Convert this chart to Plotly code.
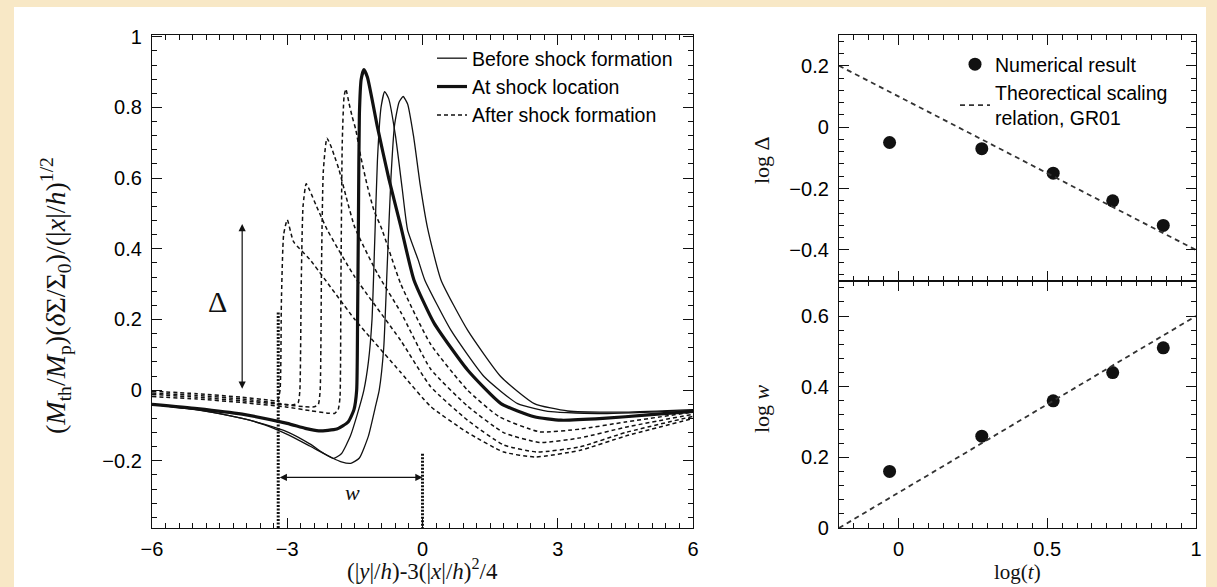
import plotly.graph_objects as go

# ---------------- left panel: density profiles ----------------
# two profiles before shock formation (thin solid)
before1_x = [-6, -5, -4, -3.5, -3, -2.5, -2.0, -1.8, -1.59, -1.4, -1.2, -1.05, -0.96, -0.86, -0.78, -0.70,
             -0.62, -0.52, -0.43, -0.33, -0.2, -0.05, 0.11, 0.41, 1.0, 1.74, 2.48, 3.22, 4.5, 6]
before1_y = [-0.040, -0.055, -0.080, -0.098, -0.125, -0.158, -0.192, -0.203, -0.207, -0.192, -0.13, -0.05,
             0.0, 0.12, 0.36, 0.60, 0.75, 0.815, 0.831, 0.81, 0.72, 0.58, 0.46, 0.312, 0.17, 0.038, -0.038,
             -0.059, -0.062, -0.055]
before2_x = [-6, -5, -4, -3.5, -3, -2.5, -2.2, -1.97, -1.8, -1.6, -1.45, -1.3, -1.2, -1.12, -1.06, -1.0,
             -0.92, -0.84, -0.75, -0.6, -0.45, -0.33, -0.1, 0.05, 0.63, 1.37, 2.11, 2.85, 4.0, 6]
before2_y = [-0.040, -0.056, -0.080, -0.097, -0.118, -0.152, -0.178, -0.193, -0.180, -0.130, -0.070, 0.0,
             0.08, 0.2, 0.42, 0.65, 0.80, 0.845, 0.825, 0.72, 0.57, 0.453, 0.37, 0.312, 0.17, 0.038, -0.038,
             -0.061, -0.066, -0.057]

# profile at the shock location (thick solid)
shock_x = [-6, -5, -4, -3, -2.6, -2.3, -1.9, -1.65, -1.52, -1.46, -1.44, -1.42, -1.40, -1.36, -1.30, -1.22,
           -1.0, -0.75, -0.48, -0.19, 0.26, 1.0, 1.74, 2.48, 3.07, 4.0, 5.0, 6.0]
shock_y = [-0.040, -0.052, -0.068, -0.094, -0.108, -0.115, -0.110, -0.090, -0.055, 0.0, 0.2, 0.5, 0.78,
           0.88, 0.907, 0.885, 0.745, 0.60, 0.463, 0.312, 0.189, 0.057, -0.038, -0.075, -0.085, -0.080,
           -0.070, -0.060]

# profiles after shock formation (dashed)
after1_x = [-6, -5, -4, -3, -2.5, -2.1, -1.95, -1.87, -1.83, -1.81, -1.78, -1.74, -1.70, -1.63, -1.56, -1.48,
            -1.37, -1.22, -1.08, -0.9, -0.48, 0.18, 1.0, 1.7, 2.6, 3.5, 4.5, 6]
after1_y = [-0.018, -0.025, -0.035, -0.048, -0.058, -0.065, -0.066, -0.055, -0.02, 0.3, 0.7, 0.83, 0.852,
            0.812, 0.774, 0.737, 0.661, 0.576, 0.51, 0.455, 0.30, 0.13, 0.0, -0.075, -0.118, -0.11, -0.09,
            -0.062]
after2_x = [-6, -5, -4, -3, -2.6, -2.4, -2.31, -2.27, -2.24, -2.2, -2.12, -2.03, -1.96, -1.85, -1.7, -1.5,
            -1.0, -0.48, 0.18, 1.0, 1.8, 2.6, 3.5, 4.5, 6]
after2_y = [-0.012, -0.02, -0.03, -0.042, -0.047, -0.047, -0.04, 0.0, 0.35, 0.62, 0.713, 0.69, 0.665, 0.623,
            0.55, 0.46, 0.33, 0.22, 0.06, -0.045, -0.12, -0.148, -0.135, -0.105, -0.068]
after3_x = [-6, -5, -4, -3.2, -2.9, -2.76, -2.72, -2.69, -2.65, -2.58, -2.5, -2.35, -2.11, -1.5, -0.48, 0.18,
            1.0, 1.8, 2.55, 3.5, 4.5, 6]
after3_y = [-0.008, -0.015, -0.025, -0.037, -0.042, -0.036, 0.0, 0.3, 0.52, 0.584, 0.565, 0.52, 0.453, 0.32,
            0.14, 0.01, -0.085, -0.155, -0.175, -0.16, -0.12, -0.074]
after4_x = [-6, -5, -4, -3.4, -3.22, -3.16, -3.13, -3.08, -3.0, -2.86, -2.5, -1.5, -0.48, 0.18, 1.0, 1.8,
            2.5, 3.5, 4.5, 6]
after4_y = [-0.003, -0.01, -0.02, -0.028, -0.030, 0.0, 0.25, 0.44, 0.482, 0.42, 0.37, 0.20, 0.05, -0.046,
            -0.12, -0.175, -0.189, -0.17, -0.13, -0.08]

# amplitude / width markers
delta_x = -4.0
delta_span = [0.0, 0.47]
width_y = -0.247
width_span = [-3.2, 0.0]
front_line_top = 0.22
end_line_top = -0.18

# ---------------- right panels: scaling with time ----------------
log_t = [-0.03, 0.28, 0.52, 0.72, 0.89]
log_delta = [-0.05, -0.07, -0.15, -0.24, -0.32]
log_w = [0.16, 0.26, 0.36, 0.44, 0.51]
theory_t = [-0.2, 1.0]
theory_delta = [0.2, -0.4]
theory_w = [0.0, 0.6]

W, H = 1217, 587
INK = "#111111"
SANS = "Liberation Sans, Arial, sans-serif"
SERIF = "Liberation Serif, Times New Roman, serif"
TICK_SIZE = 20
LEGEND_SIZE = 19.5


def px_x(p):
    return p / W


def px_y(p):
    return 1 - p / H


fig = go.Figure()

spline = dict(shape="spline", smoothing=0.5)

for i, (xs, ys) in enumerate([(before1_x, before1_y), (before2_x, before2_y)]):
    fig.add_trace(go.Scatter(x=xs, y=ys, mode="lines", name="Before shock formation",
                             line=dict(color=INK, width=1.3, **spline),
                             showlegend=(i == 0), legendrank=1, xaxis="x", yaxis="y"))
fig.add_trace(go.Scatter(x=shock_x, y=shock_y, mode="lines", name="At shock location",
                         line=dict(color=INK, width=3.2, **spline), legendrank=2, xaxis="x", yaxis="y"))
for i, (xs, ys) in enumerate([(after1_x, after1_y), (after2_x, after2_y),
                              (after3_x, after3_y), (after4_x, after4_y)]):
    fig.add_trace(go.Scatter(x=xs, y=ys, mode="lines", name="After shock formation",
                             line=dict(color=INK, width=1.5, dash="4px,3px", **spline),
                             showlegend=(i == 0), legendrank=3, xaxis="x", yaxis="y"))

# vertical markers bounding the width w
fig.add_trace(go.Scatter(x=[width_span[0], width_span[0]], y=[front_line_top, -0.39], mode="lines",
                         line=dict(color=INK, width=3, dash="2px,1.5px"), showlegend=False,
                         xaxis="x", yaxis="y"))
fig.add_trace(go.Scatter(x=[width_span[1], width_span[1]], y=[end_line_top, -0.39], mode="lines",
                         line=dict(color=INK, width=3, dash="2px,1.5px"), showlegend=False,
                         xaxis="x", yaxis="y"))

# right-top: amplitude
fig.add_trace(go.Scatter(x=log_t, y=log_delta, mode="markers", name="Numerical result",
                         marker=dict(color=INK, size=13), legend="legend2", xaxis="x2", yaxis="y2"))
fig.add_trace(go.Scatter(x=theory_t, y=theory_delta, mode="lines",
                         name="Theorectical scaling<br>relation, GR01",
                         line=dict(color="#333", width=1.8, dash="5px,4px"), legend="legend2",
                         xaxis="x2", yaxis="y2"))
# right-bottom: width
fig.add_trace(go.Scatter(x=log_t, y=log_w, mode="markers", marker=dict(color=INK, size=13),
                         showlegend=False, xaxis="x3", yaxis="y3"))
fig.add_trace(go.Scatter(x=theory_t, y=theory_w, mode="lines",
                         line=dict(color="#333", width=1.8, dash="5px,4px"), showlegend=False,
                         xaxis="x3", yaxis="y3"))


def minor(dt):
    return dict(ticks="inside", ticklen=5, tickwidth=1.0, tickcolor=INK, dtick=dt, showgrid=False)


def axis(**kw):
    base = dict(showline=True, linecolor=INK, linewidth=1.3, mirror="ticks", ticks="inside",
                ticklen=10, tickwidth=1.2, tickcolor=INK, showgrid=False, zeroline=False,
                tickfont=dict(family=SANS, size=TICK_SIZE, color="#000"), ticklabelstandoff=5,
                automargin=False)
    base.update(kw)
    return base


L_X = [px_x(152), px_x(693)]
R_X = [px_x(839), px_x(1196)]

fig.update_layout(
    width=W, height=H,
    margin=dict(l=0, r=0, t=0, b=0),
    paper_bgcolor="#f8e8c6",
    plot_bgcolor="white",
    xaxis=axis(domain=L_X, range=[-6, 6], tick0=0, dtick=3, minor=minor(0.3), ticklabelstandoff=3),
    yaxis=axis(domain=[px_y(528), px_y(35)], range=[-0.39, 1.005], tick0=0, dtick=0.2, minor=minor(0.04)),
    xaxis2=axis(domain=R_X, range=[-0.2, 1.0], tick0=0, dtick=0.5, anchor="y2", showticklabels=False,
                minor=minor(0.05)),
    yaxis2=axis(domain=[px_y(280.7), px_y(35)], range=[-0.5, 0.3], tick0=0, dtick=0.2, anchor="x2",
                minor=minor(0.04)),
    xaxis3=axis(domain=R_X, range=[-0.2, 1.0], tick0=0, dtick=0.5, anchor="y3", minor=minor(0.05),
                ticklabelstandoff=3),
    yaxis3=axis(domain=[px_y(528), px_y(280.7)], range=[0, 0.7], tick0=0, dtick=0.2, anchor="x3",
                minor=minor(0.04)),
    legend=dict(x=px_x(432), y=px_y(39), xanchor="left", yanchor="top", bgcolor="rgba(0,0,0,0)",
                font=dict(family=SANS, size=LEGEND_SIZE, color="#000"), traceorder="normal", itemwidth=30),
    legend2=dict(x=px_x(955), y=px_y(45), xanchor="left", yanchor="top", bgcolor="rgba(0,0,0,0)",
                 font=dict(family=SANS, size=LEGEND_SIZE, color="#000"), itemwidth=30),
    showlegend=True,
)

# white figure sheet on the parchment background
fig.add_shape(type="rect", xref="paper", yref="paper", x0=px_x(14), x1=px_x(1206), y0=0, y1=px_y(7),
              fillcolor="white", line=dict(width=0), layer="below")

ann = []
# axis titles
ann.append(dict(x=px_x(56), y=px_y(296), xref="paper", yref="paper", textangle=-90, showarrow=False,
                xanchor="center", yanchor="middle",
                text="(<i>M</i><sub>th</sub>/<i>M</i><sub>p</sub>)(<i>δ</i>Σ/Σ<sub>0</sub>)/(|<i>x</i>|/<i>h</i>)<sup>1/2</sup>",
                font=dict(family=SERIF, size=28, color="#111")))
ann.append(dict(x=px_x(422), y=px_y(586), xref="paper", yref="paper", showarrow=False,
                xanchor="center", yanchor="bottom",
                text="(|<i>y</i>|/<i>h</i>)-3(|<i>x</i>|/<i>h</i>)<sup>2</sup>/4",
                font=dict(family=SERIF, size=23, color="#111")))
ann.append(dict(x=px_x(761), y=px_y(160), xref="paper", yref="paper", textangle=-90, showarrow=False,
                xanchor="center", yanchor="middle",
                text="log Δ", font=dict(family=SERIF, size=22, color="#111")))
ann.append(dict(x=px_x(761), y=px_y(408), xref="paper", yref="paper", textangle=-90, showarrow=False,
                xanchor="center", yanchor="middle",
                text="log <i>w</i>", font=dict(family=SERIF, size=22, color="#111")))
ann.append(dict(x=px_x(1017), y=px_y(586), xref="paper", yref="paper", showarrow=False,
                xanchor="center", yanchor="bottom",
                text="log(<i>t</i>)", font=dict(family=SERIF, size=21, color="#111")))
# Δ and w markers
ann.append(dict(x=delta_x, y=delta_span[1], ax=delta_x, ay=delta_span[0], xref="x", yref="y",
                axref="x", ayref="y", text="", showarrow=True, arrowside="end+start", arrowhead=2,
                arrowsize=1.2, arrowwidth=1.2, arrowcolor=INK))
ann.append(dict(x=-4.54, y=0.25, xref="x", yref="y", text="Δ", showarrow=False,
                font=dict(family=SERIF, size=30, color="#111")))
ann.append(dict(x=width_span[1], y=width_y, ax=width_span[0], ay=width_y, xref="x", yref="y",
                axref="x", ayref="y", text="", showarrow=True, arrowside="end+start", arrowhead=2,
                arrowsize=1.2, arrowwidth=1.2, arrowcolor=INK))
ann.append(dict(x=-1.56, y=-0.29, xref="x", yref="y", text="<i>w</i>", showarrow=False,
                font=dict(family=SERIF, size=22, color="#111")))
fig.update_layout(annotations=ann)

fig.write_html("out.html")
